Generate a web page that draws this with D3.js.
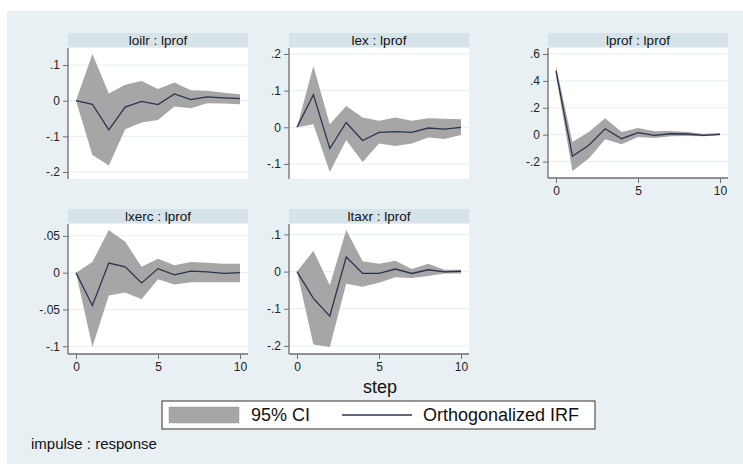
<!DOCTYPE html>
<html><head><meta charset="utf-8">
<script src="https://cdn.jsdelivr.net/npm/d3@7"></script>
<style>body{margin:0;background:#fff;} svg{display:block;font-family:"Liberation Sans",Arial,sans-serif;}</style>
</head><body>
<svg id="c" width="743" height="464"></svg>
<script>
// ---- data ----
const steps = [0,1,2,3,4,5,6,7,8,9,10];
const panelTitles = ["loilr : lprof","lex : lprof","lprof : lprof","lxerc : lprof","ltaxr : lprof"];

const irf_loilr = [0,-0.010,-0.082,-0.018,-0.002,-0.011,0.019,0.003,0.011,0.008,0.006];
const hi_loilr  = [0,0.131,0.020,0.045,0.055,0.033,0.051,0.029,0.028,0.022,0.018];
const lo_loilr  = [0,-0.152,-0.182,-0.080,-0.061,-0.054,-0.016,-0.021,-0.007,-0.008,-0.010];

const irf_lex = [0,0.089,-0.058,0.013,-0.036,-0.014,-0.012,-0.014,-0.002,-0.005,0];
const hi_lex  = [0,0.167,0.008,0.058,0.027,0.018,0.027,0.018,0.025,0.023,0.022];
const lo_lex  = [0,0.008,-0.122,-0.035,-0.095,-0.044,-0.051,-0.044,-0.028,-0.032,-0.021];

const irf_lprof = [0.474,-0.160,-0.078,0.044,-0.030,0.015,-0.005,0.007,0.005,-0.005,0.002];
const hi_lprof  = [0.510,-0.054,0.020,0.123,0.020,0.049,0.025,0.027,0.020,0.007,0.012];
const lo_lprof  = [0.437,-0.270,-0.177,-0.034,-0.071,-0.017,-0.025,-0.012,-0.010,-0.012,-0.005];

const irf_lxerc = [0,-0.0445,0.013,0.008,-0.014,0.0055,-0.003,0.002,0.001,-0.001,0];
const hi_lxerc  = [0,0.0145,0.058,0.042,0.008,0.019,0.010,0.0145,0.0135,0.012,0.012];
const lo_lxerc  = [0,-0.101,-0.031,-0.027,-0.036,-0.009,-0.016,-0.013,-0.013,-0.013,-0.013];

const irf_ltaxr = [0,-0.072,-0.120,0.039,-0.005,-0.005,0.007,-0.005,0.005,-0.001,0.001];
const hi_ltaxr  = [0,0.056,-0.037,0.112,0.028,0.021,0.029,0.007,0.021,0.005,0.005];
const lo_ltaxr  = [0,-0.196,-0.203,-0.033,-0.041,-0.030,-0.015,-0.017,-0.012,-0.005,-0.005];

const yTicks_loilr = [-0.2,-0.1,0,0.1];
const yTicks_lex   = [-0.1,0,0.1,0.2];
const yTicks_lprof = [-0.2,0,0.2,0.4,0.6];
const yTicks_lxerc = [-0.1,-0.05,0,0.05];
const yTicks_ltaxr = [-0.2,-0.1,0,0.1];
const xTicks = [0,5,10];

const legendLabels = ["95% CI","Orthogonalized IRF"];
const xTitle = "step";
const note = "impulse : response";

// ---- layout ----
const svg = d3.select("#c");
const BG = "#e8f0f3", STRIP = "#d6e3e9", FILL = "#a6a6a6", LINE = "#2a344f", AX = "#6e6e6e";
svg.append("rect").attr("x",7).attr("y",11).attr("width",736).attr("height",453).attr("fill",BG);

const panels = [
  {title:panelTitles[0], irf:irf_loilr, hi:hi_loilr, lo:lo_loilr, ticks:yTicks_loilr, left:68,  top:47,  bottom:179, xaxis:false},
  {title:panelTitles[1], irf:irf_lex,   hi:hi_lex,   lo:lo_lex,   ticks:yTicks_lex,   left:289, top:47,  bottom:179, xaxis:false},
  {title:panelTitles[2], irf:irf_lprof, hi:hi_lprof, lo:lo_lprof, ticks:yTicks_lprof, left:548, top:47,  bottom:178, xaxis:true},
  {title:panelTitles[3], irf:irf_lxerc, hi:hi_lxerc, lo:lo_lxerc, ticks:yTicks_lxerc, left:68,  top:223, bottom:354, xaxis:true},
  {title:panelTitles[4], irf:irf_ltaxr, hi:hi_ltaxr, lo:lo_ltaxr, ticks:yTicks_ltaxr, left:289, top:223, bottom:354, xaxis:true},
];
const PW = 180, SH = 14, PAD = 7;
const fmt = v => { if (v===0) return "0"; let s = String(+v.toFixed(3)); return s.replace(/^(-?)0\./,"$1."); };

panels.forEach(p => {
  const g = svg.append("g");
  // strip
  g.append("rect").attr("x",p.left).attr("y",p.top-SH).attr("width",PW).attr("height",SH).attr("fill",STRIP);
  g.append("text").attr("x",p.left+PW/2).attr("y",p.top-SH/2).attr("dy","0.36em")
    .attr("text-anchor","middle").attr("font-size",13.5).attr("fill","#111").text(p.title);
  // plot region
  g.append("rect").attr("x",p.left).attr("y",p.top+1).attr("width",PW).attr("height",p.bottom-p.top-1).attr("fill","#fff");
  const x = d3.scaleLinear().domain([0,10]).range([p.left+8,p.left+PW-8]);
  const ymin = Math.min(d3.min(p.lo), d3.min(p.ticks)), ymax = Math.max(d3.max(p.hi), d3.max(p.ticks));
  const y = d3.scaleLinear().domain([ymin,ymax]).range([p.bottom-PAD,p.top+PAD]);
  // grid
  g.selectAll(".grid").data(p.ticks).join("line")
    .attr("x1",p.left).attr("x2",p.left+PW).attr("y1",d=>y(d)).attr("y2",d=>y(d))
    .attr("stroke","#e6eef1").attr("stroke-width",1);
  // CI area
  const area = d3.area().x((d,i)=>x(steps[i])).y0((d,i)=>y(p.lo[i])).y1((d,i)=>y(p.hi[i]));
  g.append("path").datum(steps).attr("d",area).attr("fill",FILL);
  const line = d3.line().x((d,i)=>x(steps[i])).y(d=>y(d));
  g.append("path").datum(p.irf).attr("d",line).attr("fill","none").attr("stroke",LINE).attr("stroke-width",1.3);
  // y axis
  const ya = d3.axisLeft(y).tickValues(p.ticks).tickFormat(fmt).tickSize(5).tickPadding(3);
  const yg = g.append("g").attr("transform",`translate(${p.left},0)`).call(ya);
  yg.select(".domain").attr("d",`M0,${p.top+1}V${p.bottom}`).attr("stroke",AX).attr("stroke-width",1.3);
  yg.selectAll(".tick line").attr("stroke",AX);
  yg.selectAll(".tick text").attr("font-size",12).attr("fill","#222").attr("font-family","Liberation Sans, Arial, sans-serif");
  if (p.xaxis) {
    const xa = d3.axisBottom(x).tickValues(xTicks).tickFormat(d3.format("d")).tickSize(5).tickPadding(3);
    const xg = g.append("g").attr("transform",`translate(0,${p.bottom})`).call(xa);
    xg.select(".domain").attr("d",`M${p.left},0H${p.left+PW}`).attr("stroke",AX).attr("stroke-width",1.3);
    xg.selectAll(".tick line").attr("stroke",AX);
    xg.selectAll(".tick text").attr("font-size",12).attr("fill","#222").attr("font-family","Liberation Sans, Arial, sans-serif");
  }
});

// x title
svg.append("text").attr("x",380).attr("y",387).attr("dy","0.36em").attr("text-anchor","middle")
  .attr("font-size",18).attr("fill","#111").text(xTitle);

// legend
const lg = svg.append("g");
lg.append("rect").attr("x",162).attr("y",401).attr("width",433).attr("height",28).attr("fill","#fff").attr("stroke","#333").attr("stroke-width",1);
lg.append("rect").attr("x",169).attr("y",407).attr("width",70).attr("height",16).attr("fill",FILL).attr("stroke","#999").attr("stroke-width",0.5);
lg.append("text").attr("x",251).attr("y",415).attr("dy","0.36em").attr("font-size",18).attr("fill","#111").text(legendLabels[0]);
lg.append("line").attr("x1",342).attr("x2",412).attr("y1",415).attr("y2",415).attr("stroke",LINE).attr("stroke-width",1.3);
lg.append("text").attr("x",423).attr("y",415).attr("dy","0.36em").attr("font-size",18).attr("fill","#111").text(legendLabels[1]);

svg.append("text").attr("x",31).attr("y",444).attr("dy","0.36em").attr("font-size",15).attr("fill","#111").text(note);
</script>
</body></html>
